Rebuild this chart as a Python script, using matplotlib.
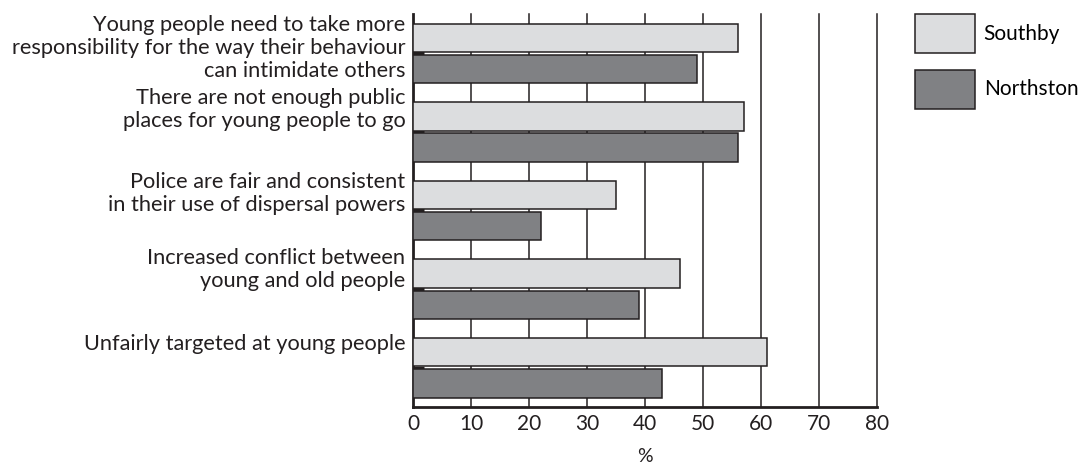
import matplotlib
matplotlib.use("Agg")
import matplotlib.pyplot as plt
import numpy as np

categories = [
    "Young people need to take more\nresponsibility for the way their behaviour\ncan intimidate others",
    "There are not enough public\nplaces for young people to go",
    "Police are fair and consistent\nin their use of dispersal powers",
    "Increased conflict between\nyoung and old people",
    "Unfairly targeted at young people",
]
southby = [56, 57, 35, 46, 61]
northston = [49, 56, 22, 39, 43]
series_names = ["Southby", "Northston"]
xticks = [0, 10, 20, 30, 40, 50, 60, 70, 80]
label_offsets = [-0.07, -0.29, -0.22, -0.25, -0.30]

plt.rcParams['font.family'] = ['Lato', 'DejaVu Sans']
ink = '#231f20'
fs = 15.7

fig = plt.figure(figsize=(10.82, 4.65), dpi=100)
ax = fig.add_axes([413/1082, 1-407/465, (877-413)/1082, (407-14)/465])

y = np.arange(len(categories))
h = 0.36
b1 = ax.barh(y - 0.197, southby, height=h, color='#dcdddf', edgecolor=ink, linewidth=1.1, zorder=3, label=series_names[0])
b2 = ax.barh(y + 0.2, northston, height=h, color='#808184', edgecolor=ink, linewidth=1.1, zorder=3, label=series_names[1])

ax.set_xlim(0, 80)
ax.set_ylim(len(categories) - 0.5, -0.5)
ax.set_xticks(xticks)
ax.set_xticklabels([str(t) for t in xticks], fontsize=15, color=ink)
ax.tick_params(axis='x', length=0, pad=5)
ax.set_yticks(y)
ax.set_yticklabels([])
ax.tick_params(axis='y', direction='in', length=8, width=2.5, color=ink)

for xv in xticks[1:]:
    ax.axvline(xv, color=ink, linewidth=1.1, zorder=1, clip_on=False)

for s in ['top', 'right']:
    ax.spines[s].set_visible(False)
ax.spines['left'].set_linewidth(2)
ax.spines['bottom'].set_linewidth(2)
ax.spines['left'].set_color(ink)
ax.spines['bottom'].set_color(ink)

for i, (cat, off) in enumerate(zip(categories, label_offsets)):
    ax.text(-1.3, i + off, cat, ha='right', va='center', fontsize=fs,
            color=ink, linespacing=1.2, transform=ax.transData)

ax.set_xlabel('%', fontsize=14, color=ink, labelpad=10)

fig.legend(handles=[b1, b2], labels=series_names, loc='upper left',
           bbox_to_anchor=(915/1082, 1-14/465), frameon=False,
           fontsize=15, handlelength=2.9, handleheight=2.5,
           labelspacing=0.8, handletextpad=0.4, borderpad=0, borderaxespad=0)

fig.savefig('out.png', dpi=100)
